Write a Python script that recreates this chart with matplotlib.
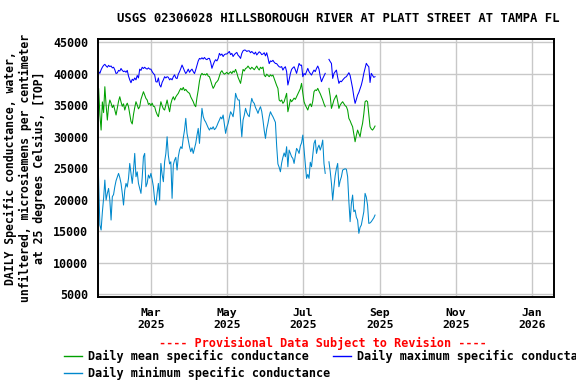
import numpy as np
import pandas as pd
import matplotlib
matplotlib.use("Agg")
import matplotlib.pyplot as plt
import matplotlib.dates as mdates
from matplotlib.lines import Line2D

nan = np.nan
start_date = "2025-01-17"

daily_max = [
    40670, 40300, 40030, 40600, 41000, 41300, 41460, 41200, 41000, 41300,
    41100, 41200, 40900, 41000, 40600, 40000, 40100, 40500, 40400, 40800,
    40500, 40300, 40400, 40200, 40500, 39600, 39000, 38540, 39100, 38900,
    39300, 39000, 39700, 39300, 40700, 40500, 41000, 40800, 41000, 40800,
    40700, 40900, 40700, 40700, 40300, 40000, 39800, 38700, 38650, 39300,
    38200, 37860, 38600, 39000, 39500, 39300, 39500, 39400, 39000, 39200,
    39000, 39500, 39800, 39300, 39200, 39900, 40300, 40800, 41350, 40900,
    40400, 40000, 40300, 40700, 40200, 40500, 40700, 40300, 40000, 40600,
    41300, 42000, 42400, 42300, 42500, 42300, 42550, 42300, 42200, 42400,
    42400, 41800, 40830, 41400, 41900, 42200, 42000, 42400, 43200, 42900,
    43100, 42700, 43000, 43100, 43100, 43300, 43500, 43000, 43200, 42700,
    43000, 43200, 43350, 42900, 42700, 42400, 43200, 43600, 43730, 43700,
    43500, 43600, 43600, 43300, 43500, 43300, 43100, 43400, 42950, 43200,
    43450, 43300, 43000, 43100, 43300, 42800, 43300, 42500, 41570, 42000,
    41900, 42100, 41800, 41600, 41570, 41300, 41080, 41000, 41100, 40550,
    40900, 41080, 40300, 38180, 39000, 40000, 40660, 40900, 41080, 40600,
    40030, 40800, 41600, 41300, 41340, 39500, 40000, 39800, 40290, 40820,
    40300, 40000, 39760, 40200, 40550, 40300, 40800, 41190, 40700, 39500,
    38700, 39200, 39600, 40030, nan, nan, 42250, 41900, 41600, 39230,
    40000, 40300, 40550, 39400, 38440, 38800, 38700, 38970, 39200, 39400,
    39500, 39800, 40130, 39700, 38700, 37650, 36300, 35270, 35900, 36590,
    37000, 37600, 38180, 39000, 40030, 40800, 41620, 41300, 41080, 38580,
    40030, 39700, 39400, 39500,
]

daily_mean = [
    34740, 37650, 33500, 31030, 35500, 33800, 37910, 35000, 32620, 34800,
    35800, 35300, 34600, 35000, 34200, 33420, 34500, 35600, 36320, 35500,
    34800, 35200, 34210, 34900, 35300, 34740, 33600, 32400, 32000, 33500,
    34600, 35530, 35000, 34400, 34740, 35900, 36500, 37120, 36600, 36060,
    35800, 35100, 35270, 34900, 35300, 34800, 34740, 34000, 33500, 33150,
    34300, 35530, 34900, 34400, 34210, 35000, 35800, 34800, 33940, 35200,
    35900, 36320, 35800, 36300, 36600, 36860, 37300, 37650, 37400, 37800,
    37300, 37490, 37200, 37000, 36860, 36300, 35900, 35530, 35000, 34740,
    36200, 37380, 38800, 39700, 40030, 39800, 39900, 39760, 40000, 39600,
    39500, 38900, 38200, 37650, 38000, 38500, 38700, 38970, 39600, 40200,
    40450, 40100, 39900, 40030, 40200, 39900, 40100, 40290, 40000, 40400,
    40200, 40660, 40100, 39400, 38900, 38440, 39600, 40660, 40400, 40800,
    40900, 41190, 40900, 40700, 41000, 40820, 40600, 40900, 41190, 40800,
    40560, 41000, 40800, 41030, 39760, 39500, 39900, 39700, 39500, 39800,
    39600, 39760, 39200, 38600, 38100, 37650, 35800, 35600, 35800, 35270,
    35530, 36200, 36860, 33940, 34800, 35900, 35530, 35800, 36100, 35900,
    36320, 36700, 37120, 37600, 38440, 36900, 35530, 35000, 34600, 34210,
    34900, 35200, 34740, 35600, 37120, 37400, 37300, 37650, 37200, 36800,
    36320, 35800, 35200, 34740, nan, nan, 37650, 36400, 34470, 35100,
    35800, 36200, 36590, 35600, 34470, 35000, 35300, 35530, 35200, 34900,
    34740, 34200, 32880, 32500, 32000, 31560, 30400, 29180, 30200, 31030,
    30500, 29970, 31200, 32090, 33600, 35530, 35700, 35530, 33500, 31560,
    31200, 31030, 31300, 31670,
]

daily_min = [
    30240, 23370, 15970, 15180, 18000, 20200, 23100, 19930, 21000, 21780,
    19930, 16760, 20460, 20800, 22040, 23000, 23600, 24160, 23500, 22570,
    21000, 19140, 21500, 22570, 22000, 23370, 25740, 24200, 22570, 24600,
    27330, 23630, 24400, 22570, 21800, 20990, 23500, 26800, 27330, 22040,
    22600, 23900, 23400, 24160, 23200, 22040, 19930, 19140, 21000, 22570,
    19930, 25740, 24000, 22840, 26000, 27330, 29970, 27000, 25660, 26000,
    20200, 25500, 26270, 26700, 24690, 26800, 27860, 28390, 28100, 29800,
    31030, 32890, 30500, 29400, 28390, 27600, 28200, 27330, 28100, 28920,
    30200, 31300, 28920, 31800, 34480, 33200, 32620, 32300, 31830, 31400,
    31030, 31400, 31200, 31560, 31100, 31300, 31700, 32200, 32620, 33100,
    32800, 33420, 32000, 30510, 31500, 32100, 33000, 33940, 33600, 33150,
    34600, 36860, 36200, 35800, 35800, 32500, 29970, 32620, 33400, 34480,
    33800, 33400, 33150, 34900, 36060, 35500, 35270, 34600, 34200, 33680,
    34300, 34740, 34000, 32620, 31000, 29710, 31200, 32100, 33200, 33940,
    33500, 33150, 32700, 32260, 28500, 25660, 25130, 24420, 25800, 26700,
    27400, 26800, 28390, 25210, 27860, 27330, 26800, 26540, 25740, 27000,
    28130, 27800, 27330, 28500, 29000, 30240, 27860, 25660, 23370, 24000,
    23370, 25930, 25210, 27000, 28920, 29450, 27330, 28200, 28650, 27860,
    28500, 29450, 25740, 24160, nan, nan, 26000, 24500, 22570, 19930,
    22040, 23800, 24950, 25740, 22040, 23000, 23630, 24690, 24800, 24900,
    24800, 23630, 19670, 16500, 19400, 20720, 18080, 18350, 17200, 16760,
    14650, 15600, 15970, 17020, 18080, 20990, 20400, 19140, 16230, 16300,
    16500, 16800, 17100, 17550,
]

y_ticks = [5000, 10000, 15000, 20000, 25000, 30000, 35000, 40000, 45000]
x_tick_dates = ["2025-03-01", "2025-05-01", "2025-07-01", "2025-09-01", "2025-11-01", "2026-01-01"]
x_tick_labels = ["Mar\n2025", "May\n2025", "Jul\n2025", "Sep\n2025", "Nov\n2025", "Jan\n2026"]

title = "USGS 02306028 HILLSBOROUGH RIVER AT PLATT STREET AT TAMPA FL"
ylabel = "DAILY Specific conductance, water,\nunfiltered, microsiemens per centimeter\nat 25 degrees Celsius, [TOP]"
labels = ["Daily mean specific conductance", "Daily maximum specific conductance",
          "Daily minimum specific conductance"]
colors = ["#00a000", "#0000ff", "#0088cc"]

dates = pd.date_range(start_date, periods=len(daily_mean), freq="D")

W, H = 576, 384
fig = plt.figure(figsize=(W / 100, H / 100), dpi=100)
L, R, T, B = 98, 554, 39, 297
ax = fig.add_axes([L / W, 1 - B / H, (R - L) / W, (B - T) / H])

FONT = "DejaVu Sans Mono"

ax.plot(dates, daily_min, color=colors[2], lw=0.75)
ax.plot(dates, daily_mean, color=colors[0], lw=0.75)
ax.plot(dates, daily_max, color=colors[1], lw=0.75)

ax.set_xlim(pd.Timestamp("2025-01-17 12:00"), pd.Timestamp("2026-01-18 18:00"))
ax.set_ylim(4550, 45480)
ax.set_yticks(y_ticks)
ax.set_yticklabels([str(v) for v in y_ticks], fontfamily=FONT, fontweight="bold", fontsize=8.4)
ax.set_xticks([pd.Timestamp(d) for d in x_tick_dates])
ax.set_xticklabels(x_tick_labels, fontfamily=FONT, fontweight="bold", fontsize=8.2, linespacing=1.25)
ax.tick_params(axis="y", length=0, pad=7)
ax.tick_params(axis="x", length=0, pad=8)
ax.grid(True, color="#c8c8c8", lw=1.0)
ax.set_axisbelow(True)
for s in ax.spines.values():
    s.set_color("black")
    s.set_linewidth(1.4)

fig.text(338.5 / W, 1 - 19 / H, title, ha="center", va="center",
         fontfamily=FONT, fontweight="bold", fontsize=8.8)
fig.text(25 / W, 1 - 168 / H, ylabel, ha="center", va="center", rotation=90,
         fontfamily=FONT, fontweight="bold", fontsize=8.3, linespacing=1.15, multialignment="center")
fig.text(322.5 / W, 1 - 343 / H, "---- Provisional Data Subject to Revision ----",
         ha="center", va="center", color="red", fontfamily=FONT, fontweight="bold", fontsize=8.5)

legend_items = [(64, 356, labels[0], colors[0]), (333, 356, labels[1], colors[1]),
                (64, 373, labels[2], colors[2])]
for x0, y0, lab, col in legend_items:
    fig.add_artist(Line2D([x0 / W, (x0 + 18) / W], [1 - y0 / H, 1 - y0 / H], color=col, lw=1.0))
    fig.text((x0 + 24) / W, 1 - y0 / H, lab, ha="left", va="center",
             fontfamily=FONT, fontweight="bold", fontsize=8.5)

fig.savefig("out.png", dpi=100)
